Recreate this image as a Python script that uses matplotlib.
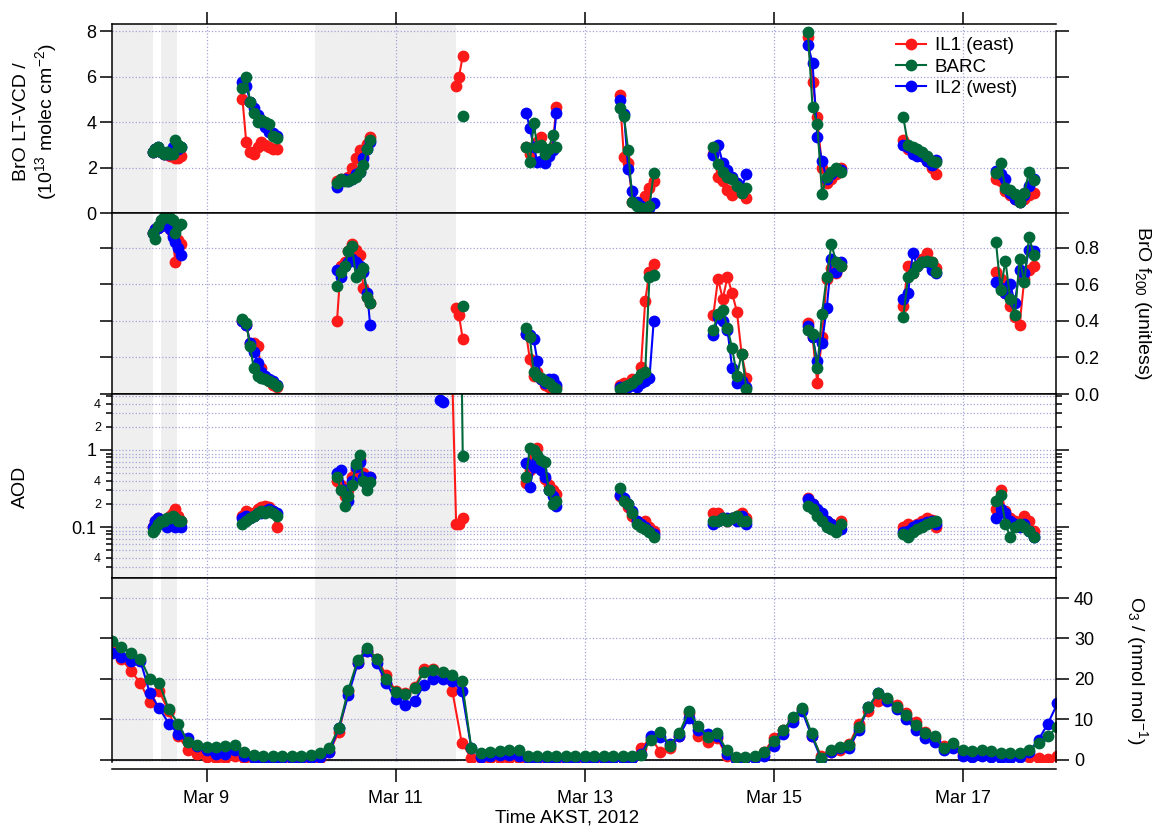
import numpy as np
import matplotlib.pyplot as plt
from matplotlib.ticker import FixedLocator, FuncFormatter

plt.rcParams['font.family'] = ['Liberation Sans', 'DejaVu Sans']
plt.rcParams['mathtext.fontset'] = 'custom'
plt.rcParams['mathtext.rm'] = 'Liberation Sans'
plt.rcParams['mathtext.it'] = 'Liberation Sans:italic'
plt.rcParams['mathtext.bf'] = 'Liberation Sans:bold'

n = np.nan

# ---- data (day of March 2012, AKST) ----
# BrO / AOD retrieval times, one list per daily cluster
t_brO = [
    [8.43, 8.46, 8.49, 8.52, 8.55, 8.58, 8.61, 8.64, 8.67, 8.70, 8.73],
    [9.38, 9.42, 9.46, 9.50, 9.54, 9.58, 9.62, 9.66, 9.70, 9.74],
    [10.38, 10.42, 10.46, 10.50, 10.54, 10.58, 10.62, 10.66, 10.70, 10.73],
    [11.47, 11.50, 11.60, 11.64, 11.67, 11.70, 11.71],
    [12.38, 12.42, 12.46, 12.50, 12.54, 12.58, 12.62, 12.66, 12.70],
    [13.37, 13.415, 13.46, 13.505, 13.55, 13.595, 13.64, 13.685, 13.73],
    [14.36, 14.41, 14.46, 14.51, 14.56, 14.61, 14.66, 14.71],
    [15.36, 15.41, 15.46, 15.51, 15.56, 15.61, 15.66, 15.71],
    [16.37, 16.42, 16.47, 16.52, 16.57, 16.62, 16.67, 16.72],
    [17.35, 17.40, 17.45, 17.50, 17.55, 17.60, 17.65, 17.70, 17.75],
]

vcd_il1 = [
    [2.7, 2.8, 2.8, 2.7, 2.6, 2.6, 2.5, 2.6, 2.4, 2.4, 2.5],
    [5.0, 3.1, 2.7, 2.6, 2.9, 3.1, 3.0, 2.9, 2.8, 2.8],
    [1.4, 1.5, 1.5, 1.6, 2.0, 2.4, 2.75, 2.5, 3.05, 3.35],
    [n, n, n, 5.6, 6.0, n, 6.9],
    [2.9, 2.6, 2.9, 3.1, 3.35, 2.8, 2.7, 2.9, 4.65],
    [5.2, 2.45, 2.2, 0.5, 0.4, 0.5, 0.75, 1.1, 1.4],
    [2.6, 1.6, 1.4, 1.0, 0.8, 1.2, 0.9, 0.65],
    [7.75, 5.75, 4.2, 2.0, 1.3, 1.5, 1.7, 2.0],
    [3.2, 2.8, 2.7, 2.6, 2.5, 2.3, 2.0, 1.7],
    [1.5, 1.4, 0.95, 0.8, 0.6, 0.5, 0.6, 0.8, 0.9],
]
vcd_barc = [
    [2.7, 2.8, 2.9, 2.7, 2.6, 2.7, 2.6, 2.6, 3.2, 3.0, 2.9],
    [5.5, 6.0, 4.9, 4.4, 4.0, 4.1, 4.0, 3.9, 3.4, 3.3],
    [1.3, 1.5, 1.4, 1.4, 1.5, 1.6, 1.8, 2.1, 2.8, 3.2],
    [n, n, n, n, n, n, 4.25],
    [2.9, 2.25, 3.95, 2.9, 3.0, 2.6, 2.8, 3.45, 2.9],
    [4.6, 4.25, 2.75, 0.5, 0.3, 0.2, 0.1, 0.3, 1.75],
    [2.9, 2.15, 1.8, 1.6, 1.5, 1.2, 0.9, 1.1],
    [7.95, 4.65, 3.9, 0.85, 1.6, 1.8, 2.0, 1.8],
    [4.2, 3.0, 2.9, 2.8, 2.7, 2.5, 2.3, 2.25],
    [1.75, 2.2, 1.1, 1.0, 0.85, 0.5, 0.9, 1.8, 1.45],
]
vcd_il2 = [
    [2.7, 2.8, 2.9, 2.7, 2.6, 2.6, 2.6, 2.9, 3.0, 2.8, 2.9],
    [5.75, 5.6, 4.9, 4.6, 4.3, 4.1, 3.8, 3.55, 3.5, 3.4],
    [1.15, 1.4, 1.5, 1.4, 1.5, 1.7, 1.8, 2.4, 2.8, 3.1],
    [n, n, n, n, n, n, n],
    [4.4, 3.75, 2.9, 2.25, 2.3, 2.2, 2.5, 2.75, 4.4],
    [4.95, 4.35, 1.95, 0.95, 0.5, 0.3, 0.15, 0.2, 0.45],
    [2.55, 3.0, 2.2, 1.9, 1.6, 1.3, 1.1, 1.7],
    [7.4, 6.6, 3.35, 2.3, 1.5, 1.7, 1.9, 1.9],
    [3.0, 2.9, 2.6, 2.5, 2.5, 2.3, 2.1, 2.35],
    [1.85, 1.7, 1.5, 0.9, 0.6, 0.5, 0.8, 1.2, 1.5],
]

f200_il1 = [
    [0.88, 0.90, 0.91, 0.92, 0.93, 0.93, 0.90, 0.87, 0.72, 0.84, 0.82],
    [0.40, 0.38, 0.28, 0.28, 0.26, 0.14, 0.09, 0.07, 0.05, 0.04],
    [0.40, 0.70, 0.72, 0.78, 0.82, 0.79, 0.76, 0.58, 0.53, 0.50],
    [n, n, n, 0.47, 0.43, n, 0.30],
    [0.33, 0.19, 0.10, 0.12, 0.08, 0.05, 0.04, 0.06, 0.04],
    [0.05, 0.06, 0.05, 0.08, 0.08, 0.15, 0.51, 0.67, 0.71],
    [0.43, 0.63, 0.52, 0.64, 0.55, 0.45, 0.22, 0.09],
    [0.39, 0.31, 0.06, 0.31, 0.63, 0.69, 0.66, 0.70],
    [0.48, 0.70, 0.66, 0.70, 0.74, 0.77, 0.72, 0.69],
    [0.67, 0.63, 0.55, 0.48, 0.42, 0.38, 0.63, 0.68, 0.70],
]
f200_barc = [
    [0.88, 0.85, 0.92, 0.95, 0.97, 0.97, 0.96, 0.95, 0.88, 0.92, 0.93],
    [0.41, 0.39, 0.26, 0.14, 0.10, 0.09, 0.08, 0.07, 0.06, 0.045],
    [0.59, 0.67, 0.70, 0.78, 0.81, 0.64, 0.66, 0.69, 0.53, 0.50],
    [n, n, n, n, n, n, 0.48],
    [0.36, 0.31, 0.12, 0.10, 0.09, 0.07, 0.06, 0.04, 0.03],
    [0.03, 0.04, 0.05, 0.06, 0.08, 0.11, 0.12, 0.64, 0.65],
    [0.35, 0.44, 0.46, 0.36, 0.25, 0.10, 0.22, 0.03],
    [0.35, 0.33, 0.14, 0.44, 0.64, 0.82, 0.72, 0.70],
    [0.42, 0.64, 0.66, 0.70, 0.72, 0.73, 0.72, 0.67],
    [0.83, 0.57, 0.73, 0.52, 0.43, 0.74, 0.61, 0.86, 0.76],
]
f200_il2 = [
    [0.88, 0.90, 0.91, 0.92, 0.93, 0.93, 0.90, 0.86, 0.83, 0.80, 0.76],
    [0.40, 0.38, 0.28, 0.23, 0.17, 0.12, 0.10, 0.08, 0.07, 0.05],
    [0.68, 0.64, 0.70, 0.72, 0.74, 0.72, 0.70, 0.67, 0.55, 0.38],
    [n, n, n, n, n, n, n],
    [0.33, 0.32, 0.30, 0.18, 0.08, 0.06, 0.08, 0.08, 0.05],
    [0.04, 0.04, 0.04, 0.05, 0.04, 0.06, 0.07, 0.09, 0.40],
    [0.32, 0.42, 0.40, 0.35, 0.14, 0.06, 0.07, 0.04],
    [0.37, 0.31, 0.18, 0.28, 0.47, 0.74, 0.67, 0.72],
    [0.52, 0.55, 0.77, 0.70, 0.72, 0.72, 0.68, 0.66],
    [0.61, 0.58, 0.55, 0.60, 0.50, 0.68, 0.66, 0.79, 0.78],
]

aod_il1 = [
    [0.10, 0.12, 0.13, 0.12, 0.11, 0.12, 0.14, 0.15, 0.17, 0.14, 0.12],
    [0.14, 0.16, 0.15, 0.15, 0.17, 0.18, 0.19, 0.18, 0.16, 0.10],
    [0.40, 0.35, 0.25, 0.30, 0.45, 0.55, 0.75, 0.50, 0.42, 0.45],
    [n, n, 8.0, 0.11, 0.11, n, 0.13],
    [0.37, 0.55, 0.80, 1.05, 0.70, 0.42, 0.35, 0.30, 0.27],
    [0.25, 0.23, 0.18, 0.14, 0.12, 0.11, 0.12, 0.10, 0.09],
    [0.15, 0.15, 0.13, 0.12, 0.13, 0.14, 0.15, 0.13],
    [0.24, 0.20, 0.16, 0.13, 0.12, 0.11, 0.10, 0.12],
    [0.10, 0.11, 0.10, 0.11, 0.12, 0.13, 0.125, 0.10],
    [0.17, 0.30, 0.16, 0.13, 0.12, 0.11, 0.14, 0.12, 0.09],
]
aod_barc = [
    [0.085, 0.095, 0.11, 0.12, 0.12, 0.13, 0.13, 0.14, 0.13, 0.12, 0.12],
    [0.11, 0.12, 0.13, 0.14, 0.15, 0.16, 0.15, 0.16, 0.15, 0.14],
    [0.45, 0.30, 0.19, 0.25, 0.35, 0.65, 0.85, 0.40, 0.30, 0.38],
    [n, n, n, n, n, 8.0, 0.84],
    [0.45, 1.05, 1.0, 0.85, 0.74, 0.70, 0.30, 0.20, 0.22],
    [0.32, 0.22, 0.20, 0.15, 0.11, 0.10, 0.095, 0.085, 0.074],
    [0.12, 0.12, 0.13, 0.12, 0.13, 0.14, 0.12, 0.12],
    [0.19, 0.17, 0.14, 0.12, 0.10, 0.095, 0.085, 0.11],
    [0.08, 0.075, 0.085, 0.095, 0.10, 0.11, 0.115, 0.12],
    [0.22, 0.26, 0.11, 0.074, 0.10, 0.11, 0.10, 0.09, 0.075],
]
aod_il2 = [
    [0.10, 0.12, 0.13, 0.12, 0.11, 0.10, 0.11, 0.12, 0.10, 0.11, 0.10],
    [0.13, 0.14, 0.13, 0.14, 0.15, 0.15, 0.16, 0.17, 0.16, 0.15],
    [0.50, 0.55, 0.30, 0.22, 0.40, 0.60, 0.70, 0.45, 0.35, 0.45],
    [4.5, 4.2, n, n, n, n, n],
    [0.67, 0.33, 0.60, 0.75, 0.55, 0.45, 0.30, 0.25, 0.19],
    [0.26, 0.24, 0.20, 0.16, 0.12, 0.11, 0.10, 0.09, 0.08],
    [0.11, 0.12, 0.13, 0.13, 0.13, 0.12, 0.14, 0.11],
    [0.23, 0.20, 0.17, 0.15, 0.12, 0.11, 0.09, 0.095],
    [0.085, 0.09, 0.10, 0.105, 0.11, 0.115, 0.12, 0.11],
    [0.13, 0.17, 0.15, 0.12, 0.11, 0.10, 0.11, 0.09, 0.075],
]

# ozone, sampled every 0.1 day from Mar 8.0 to Mar 18.0
t_o3 = np.round(np.arange(8.0, 18.001, 0.1), 1)
o3_il1 = [28.0, 25.0, 22.0, 19.0, 14.3, 17.0, 12.0, 6.0, 2.5, 1.5,
          0.8, 0.5, 0.5, 1.0, 0.5, 0.3, 0.3, 0.3, 0.3, 0.3,
          0.3, 0.3, 0.5, 2.0, 7.0, 17.0, 24.0, 27.0, 25.0, 21.0,
          17.0, 16.5, 18.0, 22.5, 22.5, 21.5, 17.0, 4.2, 0.5, 0.4,
          0.4, 0.5, 0.5, 0.6, 0.4, 0.3, 0.3, 0.3, 0.3, 0.3,
          0.3, 0.3, 0.3, 0.4, 0.5, 0.6, 3.0, 5.5, 2.0, 3.0,
          6.0, 11.5, 6.0, 4.5, 5.5, 1.0, 0.3, 0.5, 0.8, 2.0,
          5.5, 7.5, 10.0, 12.5, 6.0, 1.0, 2.0, 2.5, 4.0, 9.0,
          12.0, 14.5, 15.0, 13.5, 11.5, 9.5, 7.0, 5.5, 3.5, 3.5,
          1.5, 1.5, 1.5, 1.3, 1.0, 1.0, 1.0, 0.8, 0.5, 0.3,
          1.0]
o3_barc = [29.5, 28.0, 26.5, 25.0, 20.0, 19.0, 12.5, 9.0, 4.5, 3.7,
           3.3, 3.3, 3.4, 3.7, 2.0, 1.2, 1.0, 1.0, 1.0, 1.0,
           1.0, 1.2, 1.7, 3.0, 8.0, 17.3, 24.7, 27.7, 25.0, 20.0,
           16.8, 16.3, 17.7, 21.7, 22.2, 21.7, 21.0, 19.5, 3.0, 1.7,
           1.9, 2.1, 2.4, 2.4, 1.0, 0.9, 0.9, 0.9, 0.9, 0.9,
           0.9, 0.9, 0.9, 1.0, 1.0, 1.1, 1.3, 5.0, 7.0, 3.5,
           6.6, 12.0, 8.5, 5.6, 6.6, 2.5, 0.8, 0.8, 0.9, 1.9,
           4.6, 7.4, 10.5, 12.8, 6.6, 0.6, 2.5, 3.3, 3.7, 8.2,
           13.0, 16.5, 15.2, 13.2, 11.1, 8.6, 6.6, 5.8, 2.9, 4.1,
           2.5, 2.1, 2.5, 2.1, 1.6, 1.6, 1.8, 2.5, 4.1, 5.8,
           8.2]
o3_il2 = [26.5, 25.5, 24.5, 24.5, 16.5, 12.8, 9.0, 6.5, 5.5, 3.5,
          2.5, 1.5, 1.5, 2.5, 1.0, 0.5, 0.3, 0.3, 0.5, 0.5,
          0.5, 0.5, 0.8, 2.0, 8.0, 16.0, 24.0, 27.0, 24.0, 19.0,
          15.0, 13.5, 14.5, 18.5, 20.0, 20.0, 19.5, 17.0, 3.0, 0.8,
          1.0, 1.2, 1.2, 1.0, 0.5, 0.5, 0.5, 0.5, 0.5, 0.5,
          0.5, 0.5, 0.5, 0.5, 0.5, 0.5, 1.5, 6.0, 5.6, 4.0,
          6.0, 10.3, 7.5, 6.5, 6.0, 1.5, 0.3, 0.5, 0.5, 1.0,
          3.5, 6.5, 9.5, 12.0, 6.0, 0.3, 2.0, 3.0, 3.0, 7.5,
          13.0, 16.5, 14.5, 12.5, 10.0, 7.5, 5.5, 4.5, 2.5, 3.0,
          1.0, 0.8, 1.0, 0.8, 0.5, 0.5, 0.8, 2.0, 5.0, 9.0,
          14.0]

# periods shaded grey
shade_spans = [(8.0, 8.43), (8.52, 8.69), (10.15, 11.64)]

day_ticks = [9, 11, 13, 15, 17]
day_labels = ["Mar 9", "Mar 11", "Mar 13", "Mar 15", "Mar 17"]

c_il1 = '#ff1a1a'
c_barc = '#00693a'
c_il2 = '#0000ff'
grid_c = '#a3a3d6'


def joined(vals):
    # join the daily clusters into one line broken by NaN
    ts, vs = [], []
    for t, v in zip(t_brO, vals):
        t = np.asarray(t, float)
        v = np.asarray(v, float)
        ok = ~np.isnan(v)
        ts += list(t[ok]) + [np.nan]
        vs += list(v[ok]) + [np.nan]
    return ts, vs


W, H = 1153, 830
fig = plt.figure(figsize=(W / 100, H / 100), dpi=100)
L = 112 / W
AW = (1056 - 112) / W
ax1 = fig.add_axes([L, 1 - 213 / H, AW, (213 - 24) / H])
ax2 = fig.add_axes([L, 1 - 394 / H, AW, (394 - 213) / H])
ax3 = fig.add_axes([L, 1 - 578 / H, AW, (578 - 394) / H])
ax4 = fig.add_axes([L, 1 - 762 / H, AW, (762 - 578) / H])
axes = [ax1, ax2, ax3, ax4]

style = dict(marker='o', ms=8.5, lw=1.5, mew=0)

panels = [(ax1, vcd_il1, vcd_barc, vcd_il2),
          (ax2, f200_il1, f200_barc, f200_il2),
          (ax3, aod_il1, aod_barc, aod_il2)]
for ax, a, b, c in panels:
    ax.plot(*joined(a), color=c_il1, **style)
    ax.plot(*joined(c), color=c_il2, **style)
    ax.plot(*joined(b), color=c_barc, **style)

ax4.plot(t_o3, o3_il1, color=c_il1, **style)
ax4.plot(t_o3, o3_il2, color=c_il2, **style)
ax4.plot(t_o3, o3_barc, color=c_barc, **style)
ax4.axhline(0, color='k', lw=1.2, zorder=1.5)

for ax in axes:
    for x0, x1 in shade_spans:
        ax.axvspan(x0, x1, color='#efefef', lw=0, zorder=0)
    ax.set_xlim(8.0, 17.985)
    ax.set_xticks(day_ticks)
    ax.set_axisbelow(True)
    ax.grid(True, axis='x', ls=':', color=grid_c, lw=0.9)
    ax.grid(True, axis='y', which='major', ls=':', color=grid_c, lw=0.9)
    for s in ax.spines.values():
        s.set_linewidth(1.1)
    ax.tick_params(axis='x', bottom=False, top=False, labelbottom=False)
    ax.tick_params(axis='y', which='both', left=True, right=True, direction='out',
                   labelsize=13, width=1.1)
    ax.tick_params(axis='y', which='major', length=9)

# top panel: BrO VCD
ax1.set_ylim(0, 8.31)
ax1.set_yticks([0, 2, 4, 6, 8])
ax1.tick_params(axis='y', labelleft=True, labelright=False, pad=2)
ax1.tick_params(axis='x', top=True, direction='out', length=9, width=1.1)
ax1.spines['right'].set_bounds(0, 8)

# f200 panel
ax2.set_ylim(0, 0.99)
ax2.set_yticks([0.0, 0.2, 0.4, 0.6, 0.8])
ax2.yaxis.set_major_formatter(FuncFormatter(lambda v, p: f"{v:.1f}"))
ax2.tick_params(axis='y', labelleft=False, labelright=True, pad=4)

# AOD panel
ax3.set_yscale('log')
ax3.set_ylim(0.0218, 5.33)
ax3.yaxis.set_major_locator(FixedLocator([0.1, 1.0]))
ax3.yaxis.set_major_formatter(FuncFormatter(lambda v, p: '0.1' if v < 0.5 else '1'))
minor_aod = [k * 10.0 ** e for e in (-2, -1, 0) for k in range(2, 10)]
ax3.yaxis.set_minor_locator(FixedLocator(minor_aod))


def minor_fmt(v, p):
    k = round(v / 10 ** np.floor(np.log10(v) + 1e-9))
    return str(k) if k in (2, 4) else ''


ax3.yaxis.set_minor_formatter(FuncFormatter(minor_fmt))
ax3.grid(True, axis='y', which='minor', ls=':', color=grid_c, lw=0.9)
ax3.tick_params(axis='y', labelleft=True, labelright=False, pad=2)
ax3.tick_params(axis='y', which='minor', length=4.5, labelsize=9)

# ozone panel
ax4.set_ylim(-0.5, 44.94)
ax4.set_yticks([0, 10, 20, 30, 40])
ax4.tick_params(axis='y', labelleft=False, labelright=True, pad=4)
ax4.spines['bottom'].set_position(('outward', 5))
ax4.tick_params(axis='x', bottom=True, labelbottom=True, direction='out',
                length=9, width=1.1, labelsize=13, pad=6)
ax4.set_xticklabels(day_labels)

# legend
h1, = ax1.plot([], [], color=c_il1, **style)
h2, = ax1.plot([], [], color=c_barc, **style)
h3, = ax1.plot([], [], color=c_il2, **style)
ax1.legend([h1, h2, h3], ["IL1 (east)", "BARC", "IL2 (west)"], loc='upper left',
           bbox_to_anchor=(0.83, 0.93), frameon=False, fontsize=13.5,
           numpoints=1, handlelength=1.6, handletextpad=0.5, labelspacing=0.22,
           borderpad=0, borderaxespad=0)

# axis titles
fig.text(36 / W, 1 - 122 / H, "BrO LT-VCD /\n(10$^{13}$ molec cm$^{-2}$)",
         rotation=90, ha='center', va='center', fontsize=14, linespacing=1.2)
fig.text(20 / W, 1 - 487 / H, "AOD", rotation=90, ha='center', va='center', fontsize=14)
fig.text(1143 / W, 1 - 303 / H, "BrO f$_{200}$ (unitless)", rotation=270,
         ha='center', va='center', fontsize=14)
fig.text(1137 / W, 1 - 670 / H, "O$_3$ / (nmol mol$^{-1}$)", rotation=270,
         ha='center', va='center', fontsize=14)
fig.text(567 / W, 1 - 818 / H, "Time AKST, 2012", ha='center', va='center', fontsize=13.5)

plt.savefig("out.png", dpi=100)
